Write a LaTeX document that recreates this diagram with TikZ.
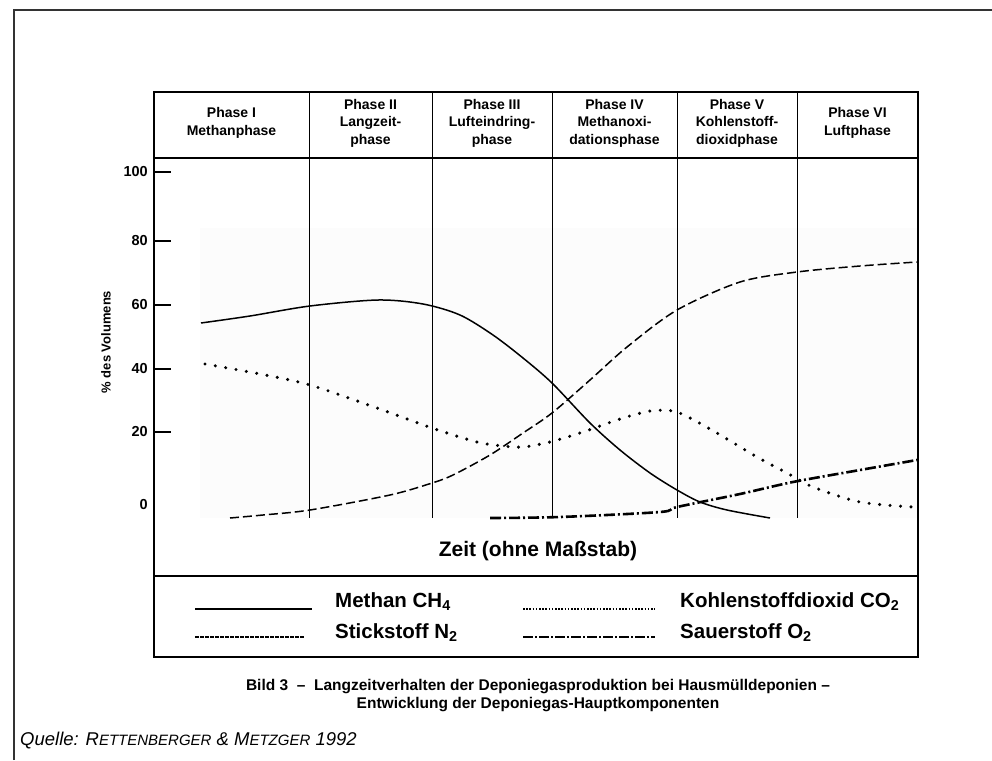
\documentclass[tikz,border=0pt]{standalone}
\usepackage{fontspec}
\setmainfont{Liberation Sans}
\begin{document}
\begin{tikzpicture}[x=1pt,y=-1pt,
  boxline/.style={line width=1.4pt},
  phaseline/.style={line width=0.9pt},
  hdr/.style={font=\bfseries\fontsize{14}{17.5}\selectfont, align=center, inner sep=0pt},
  ticklab/.style={font=\bfseries\fontsize{14.5}{16}\selectfont, anchor=east, inner sep=0pt},
  tickmark/.style={line width=2.6pt},
  legtext/.style={font=\bfseries\fontsize{20.5}{23}\selectfont, anchor=west, inner sep=0pt},
  methan/.style={line width=1.5pt},
  kohlen/.style={line width=3.4pt, line cap=round, dash pattern=on 0pt off 10.5pt},
  stick/.style={line width=1.5pt, dash pattern=on 9pt off 4pt},
  sauer/.style={line width=2.6pt, dash pattern=on 11pt off 3pt on 2pt off 3pt},
  captext/.style={font=\bfseries\fontsize{15.5}{18}\selectfont, align=center, inner sep=0pt}]
\useasboundingbox (0,0) rectangle (992,760);
% outer frame (left and top edges)
\draw[line width=1.6pt, black!80] (14,760) -- (14,10) -- (992,10);
% faint plot background
\fill[black!1] (200,228) rectangle (918,518);
% chart box
\draw[boxline] (154,92) rectangle (918,657);
\draw[boxline] (154,158) -- (918,158);
\draw[boxline] (154,576) -- (918,576);
% phase lines
\foreach \px in {309,432,552,677,797}{
  \draw[phaseline] (\px,92) -- (\px,518);
}
% headers
\node[hdr] (h1) at (231.5,123) {Phase I\\Methanphase};
\node[hdr] (h2) at (370.5,123) {Phase II\\Langzeit-\\phase};
\node[hdr] (h3) at (492,123) {Phase III\\Lufteindring-\\phase};
\node[hdr] (h4) at (614.5,123) {Phase IV\\Methanoxi-\\dationsphase};
\node[hdr] (h5) at (737,123) {Phase V\\Kohlenstoff-\\dioxidphase};
\node[hdr] (h6) at (857.5,123) {Phase VI\\Luftphase};
% ticks
\foreach \yy/\lab in {172/100,241/80,305/60,369/40,432/20}{
  \draw[tickmark] (155,\yy) -- (171,\yy);
  \node[ticklab] at (148,\yy) {\lab};
}
\node[ticklab] (zero) at (148,505) {0};
\node[font=\bfseries\fontsize{13}{15}\selectfont, rotate=90, inner sep=0pt] (ylab) at (106,342) {\% des Volumens};
% curves
\draw[methan] plot[smooth, tension=0.5] coordinates {(201,323) (250,316) (310,306) (378,300) (423,304) (460,315) (493,335) (523,358) (552,383) (590,423) (620,450) (650,473) (677,490) (700,502) (727,510) (770,518)};
\draw[kohlen] plot[smooth, tension=0.5] coordinates {(205,364) (260,374) (310,385) (377,408) (432,428) (477,442) (503,446) (523,447) (550,442) (583,432) (620,419) (650,411) (673,411) (690,418) (717,433) (757,457) (787,473) (813,487) (860,502) (913,507)};
\draw[stick] plot[smooth, tension=0.5] coordinates {(230,518) (263,515) (310,510) (390,495) (432,483) (453,475) (490,455) (523,433) (552,413) (590,380) (627,347) (677,310) (740,282) (797,272) (860,266) (917,262)};
\draw[sauer] plot[smooth, tension=0.5] coordinates {(490,518) (560,517) (660,512) (677,507) (740,494) (793,482) (860,470) (917,460)};
% x label
\node[font=\bfseries\fontsize{21}{23}\selectfont, inner sep=0pt] (xlab) at (538,551) {Zeit (ohne Maßstab)};
% legend
\coordinate (l1a) at (195,609); \coordinate (l1b) at (312,609);
\coordinate (l2a) at (523,609); \coordinate (l2b) at (655,609);
\coordinate (l3a) at (195,637); \coordinate (l3b) at (305,637);
\coordinate (l4a) at (523,637); \coordinate (l4b) at (655,637);
\draw[line width=1.2pt] (l1a) -- (l1b);
\draw[line width=1.8pt, dash pattern=on 1.6pt off 1.6pt] (l2a) -- (l2b);
\draw[line width=2pt, dash pattern=on 3.5pt off 1.5pt] (l3a) -- (l3b);
\draw[line width=1.2pt, dash pattern=on 10pt off 2pt on 2pt off 2pt] (l4a) -- (l4b);
\node[legtext] (m) at (335,602) {Methan CH\textsubscript{4}};
\node[legtext] (k) at (680,602) {Kohlenstoffdioxid CO\textsubscript{2}};
\node[legtext] (s) at (335,633) {Stickstoff N\textsubscript{2}};
\node[legtext] (o) at (680,633) {Sauerstoff O\textsubscript{2}};
% caption
\node[captext] (cap) at (538,696) {Bild 3\ \ –\ \ Langzeitverhalten der Deponiegasproduktion bei Hausmülldeponien –\\Entwicklung der Deponiegas-Hauptkomponenten};
\node[font=\itshape\fontsize{18.5}{20}\selectfont, anchor=west, inner sep=0pt] (src) at (20,741) {Quelle: R{\fontsize{15}{17}\selectfont ETTENBERGER} \& M{\fontsize{15}{17}\selectfont ETZGER} 1992};
\end{tikzpicture}
\end{document}
